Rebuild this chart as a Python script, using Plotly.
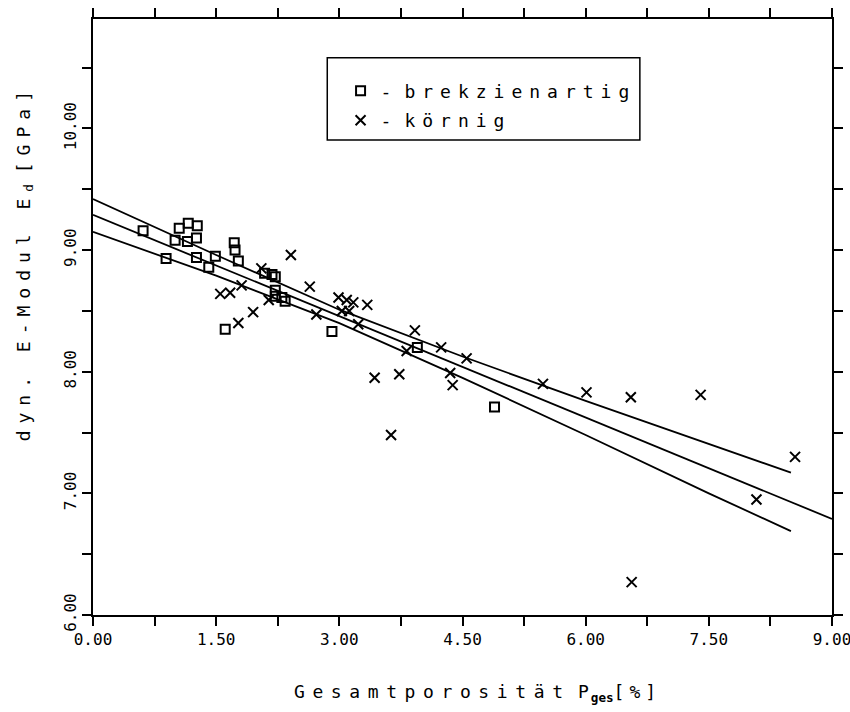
import plotly.graph_objects as go

# --- data ---
brek_x = [0.61, 0.89, 1.05, 1.16, 1.27, 1.00, 1.15, 1.26, 1.26, 1.49, 1.41, 1.72, 1.73, 1.77,
          1.61, 2.91, 2.09, 2.18, 2.22, 2.22, 2.22, 2.30, 2.34, 3.95, 4.89]
brek_y = [9.16, 8.93, 9.18, 9.22, 9.20, 9.08, 9.07, 9.10, 8.94, 8.95, 8.86, 9.06, 9.00, 8.91,
          8.35, 8.33, 8.81, 8.80, 8.78, 8.67, 8.62, 8.61, 8.58, 8.20, 7.71]

koern_x = [2.41, 2.64, 1.55, 1.67, 1.81, 1.95, 1.77, 2.05, 2.14, 2.72, 2.99, 3.09, 3.03, 3.17,
           3.12, 3.34, 3.23, 3.92, 3.82, 4.24, 4.55, 4.35, 4.38, 3.43, 3.73, 3.63, 5.48, 6.01,
           6.55, 7.40, 8.55, 8.08, 6.56]
koern_y = [8.96, 8.70, 8.64, 8.65, 8.71, 8.49, 8.40, 8.85, 8.59, 8.47, 8.61, 8.59, 8.50, 8.57,
           8.50, 8.55, 8.39, 8.34, 8.17, 8.20, 8.11, 7.99, 7.89, 7.95, 7.98, 7.48, 7.90, 7.83,
           7.79, 7.81, 7.30, 6.95, 6.27]

reg_x = [0.0, 9.0]
reg_y = [9.29, 6.79]

band_x = [0.0, 1.5, 3.0, 4.5, 6.0, 7.5, 8.5]
upper_y = [9.42, 8.96, 8.51, 8.125, 7.76, 7.405, 7.17]
lower_y = [9.15, 8.79, 8.40, 7.95, 7.48, 7.00, 6.69]

FONT = "DejaVu Sans Mono"


def spaced(txt, px=7):
    return '<span style="letter-spacing:%spx">%s</span>' % (px, txt)


fig = go.Figure()

line_style = dict(color="black", width=1.8)
fig.add_trace(go.Scatter(x=band_x, y=upper_y, mode="lines", line=line_style, showlegend=False, hoverinfo="skip"))
fig.add_trace(go.Scatter(x=reg_x, y=reg_y, mode="lines", line=line_style, showlegend=False, hoverinfo="skip"))
fig.add_trace(go.Scatter(x=band_x, y=lower_y, mode="lines", line=line_style, showlegend=False, hoverinfo="skip"))

fig.add_trace(go.Scatter(
    x=brek_x, y=brek_y, mode="markers", name=spaced("-", 13) + spaced("brekzienartig"),
    legendgroup="a",
    marker=dict(symbol="square-open", size=9, color="black", line=dict(color="black", width=2))))
fig.add_trace(go.Scatter(
    x=koern_x, y=koern_y, mode="markers", name=spaced("-", 13) + spaced("körnig"),
    legendgroup="b",
    marker=dict(symbol="x-thin-open", size=10, color="black", line=dict(color="black", width=2))))

axis_common = dict(
    showgrid=False, zeroline=False, showline=True, linecolor="black", linewidth=1.5,
    mirror="ticks", ticks="outside", ticklen=9, tickwidth=1.5, tickcolor="black",
    tickfont=dict(family=FONT, size=16, color="black"), tickformat=".2f",
    automargin=False, ticklabeloverflow="allow",
)

fig.update_xaxes(range=[0, 9], tick0=0, dtick=1.5,
                 minor=dict(dtick=0.75, ticks="outside", ticklen=9, tickwidth=1.5, tickcolor="black", showgrid=False),
                 **axis_common)
fig.update_yaxes(range=[6, 10.9], tick0=6, dtick=1, tickangle=-90,
                 minor=dict(dtick=0.5, ticks="outside", ticklen=9, tickwidth=1.5, tickcolor="black", showgrid=False),
                 **axis_common)

fig.update_layout(
    width=850, height=712,
    margin=dict(l=93, r=18, t=19, b=97),
    paper_bgcolor="white", plot_bgcolor="white",
    font=dict(family=FONT, color="black"),
    showlegend=True,
    legend=dict(
        x=0.335, y=0.91, xanchor="left", yanchor="top",
        bgcolor="rgba(0,0,0,0)", borderwidth=0,
        font=dict(family=FONT, size=18, color="black"),
        tracegroupgap=3, itemwidth=30,
    ),
    shapes=[dict(type="rect", xref="paper", yref="paper",
                 x0=0.317, x1=0.740, y0=0.797, y1=0.935,
                 line=dict(color="black", width=1.5), fillcolor="rgba(0,0,0,0)")],
    annotations=[
        dict(text=spaced("Gesamtporositä", 7.6) + spaced("t", 15) + spaced("P", 2)
             + "<sub><b>ges</b></sub>" + spaced("[%]", 5),
             xref="paper", yref="paper", x=0.52, y=-0.108, xanchor="center", yanchor="top",
             showarrow=False, font=dict(family=FONT, size=18, color="black")),
        dict(text=spaced("dyn. E-Modul E") + "<sub>d</sub> " + spaced("[GPa]"),
             xref="paper", yref="paper", x=-0.092, y=0.59, xanchor="center", yanchor="middle",
             textangle=-90, showarrow=False, font=dict(family=FONT, size=18, color="black")),
    ],
)

fig.write_html("out.html")
